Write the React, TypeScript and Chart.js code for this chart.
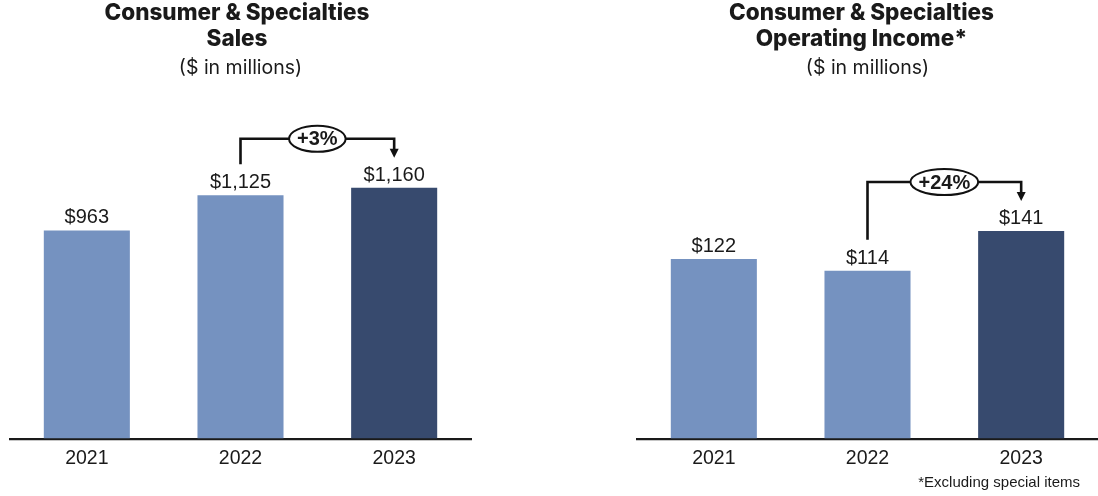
import React, { useEffect, useRef } from 'react';
import { Chart, registerables } from 'chart.js';

Chart.register(...registerables);

// ---- data ----
const years = ['2021', '2022', '2023'];
const salesValues = [963, 1125, 1160];
const incomeValues = [122, 114, 141];
const salesChange = '+3%';
const incomeChange = '+24%';
const salesTitle = ['Consumer & Specialties', 'Sales'];
const incomeTitle = ['Consumer & Specialties', 'Operating Income*'];
const unitLabel = '($ in millions)';
const footnoteText = '*Excluding special items';

const LIGHT = '#7592C0';
const DARK = '#374A6E';
const barColors = [LIGHT, LIGHT, DARK];
const TEXT = '#1a1a1a';
const SANS = '"Liberation Sans", Arial, sans-serif';
const TITLE_FONT = 'Inter, "Open Sans", sans-serif';

const valueLabelPlugin = {
  id: 'valueLabels',
  afterDatasetsDraw(chart: any) {
    const ctx = chart.ctx;
    const meta = chart.getDatasetMeta(0);
    const data = chart.data.datasets[0].data as number[];
    ctx.save();
    ctx.font = `20px ${SANS}`;
    ctx.fillStyle = TEXT;
    ctx.textAlign = 'center';
    ctx.textBaseline = 'alphabetic';
    meta.data.forEach((bar: any, i: number) => {
      ctx.fillText('$' + data[i].toLocaleString('en-US'), bar.x, bar.y - 7);
    });
    ctx.restore();
  },
};

const bracketPlugin = {
  id: 'bracket',
  afterDatasetsDraw(chart: any, _args: any, opts: any) {
    if (!opts || !opts.label) return;
    const ctx = chart.ctx;
    const meta = chart.getDatasetMeta(0);
    const a = meta.data[opts.from];
    const b = meta.data[opts.to];
    const topY = Math.min(a.y, b.y) - 49;
    const tip = b.y - 30;
    ctx.save();
    ctx.strokeStyle = '#111';
    ctx.fillStyle = '#111';
    ctx.lineWidth = 2.6;
    ctx.lineJoin = 'miter';
    ctx.beginPath();
    ctx.moveTo(a.x, a.y - 31);
    ctx.lineTo(a.x, topY);
    ctx.lineTo(b.x, topY);
    ctx.lineTo(b.x, tip - 8);
    ctx.stroke();
    ctx.beginPath();
    ctx.moveTo(b.x - 4.5, tip - 9);
    ctx.lineTo(b.x + 4.5, tip - 9);
    ctx.lineTo(b.x, tip);
    ctx.closePath();
    ctx.fill();
    // ellipse label
    ctx.font = `bold 20px ${SANS}`;
    const w = ctx.measureText(opts.label).width;
    const cx = (a.x + b.x) / 2;
    const rx = w / 2 + 8;
    const ry = 13;
    ctx.beginPath();
    ctx.ellipse(cx, topY, rx, ry, 0, 0, Math.PI * 2);
    ctx.fillStyle = '#ffffff';
    ctx.fill();
    ctx.lineWidth = 2;
    ctx.stroke();
    ctx.fillStyle = TEXT;
    ctx.textAlign = 'center';
    ctx.textBaseline = 'middle';
    ctx.fillText(opts.label, cx, topY + 1);
    ctx.restore();
  },
};

const footnotePlugin = {
  id: 'footnote',
  afterDraw(chart: any, _args: any, opts: any) {
    if (!opts || !opts.text) return;
    const ctx = chart.ctx;
    const area = chart.chartArea;
    ctx.save();
    ctx.font = `15px ${SANS}`;
    ctx.fillStyle = TEXT;
    ctx.textAlign = 'right';
    ctx.textBaseline = 'alphabetic';
    ctx.fillText(opts.text, area.right - 18, area.bottom + 48);
    ctx.restore();
  },
};

const titleShiftPlugin = {
  id: 'titleShift',
  afterLayout(chart: any, _args: any, opts: any) {
    const dx = (opts && opts.dx) || 0;
    [chart.titleBlock, chart.subtitleBlock].forEach((b: any) => {
      if (b) {
        b.left += dx;
        b.right += dx;
      }
    });
  },
};

function makeConfig(
  title: string[],
  values: number[],
  yMax: number,
  change: string,
  pad: { left: number; right: number },
  dx: number,
  footnote: string
): any {
  return {
    type: 'bar',
    data: {
      labels: years,
      datasets: [
        {
          data: values,
          backgroundColor: barColors,
          borderWidth: 0,
          categoryPercentage: 1,
          barPercentage: 0.56,
        },
      ],
    },
    options: {
      animation: false,
      responsive: true,
      maintainAspectRatio: false,
      layout: { padding: { left: pad.left, right: pad.right, top: 0, bottom: 18 } },
      scales: {
        x: {
          grid: { display: false, drawTicks: false },
          border: { display: true, color: '#1a1a1a', width: 2.2 },
          ticks: { color: TEXT, font: { family: SANS, size: 19.5 }, padding: 8 },
        },
        y: { display: false, min: 0, max: yMax },
      },
      plugins: {
        legend: { display: false },
        tooltip: { enabled: false },
        title: {
          display: true,
          text: title,
          color: TEXT,
          font: { family: TITLE_FONT, size: 22.5, weight: 800, lineHeight: '26px' },
          padding: { top: 0, bottom: 0 },
        },
        subtitle: {
          display: true,
          text: unitLabel,
          color: TEXT,
          font: { family: TITLE_FONT, size: 19.5, weight: 'normal', lineHeight: '22px' },
          padding: { top: 5, bottom: 21 },
        },
        bracket: { from: 1, to: 2, label: change },
        footnote: { text: footnote },
        titleShift: { dx },
      },
    },
    plugins: [valueLabelPlugin, bracketPlugin, footnotePlugin, titleShiftPlugin],
  };
}

function BarPanel(props: { config: any; style: React.CSSProperties }) {
  const ref = useRef<HTMLCanvasElement | null>(null);
  useEffect(() => {
    if (!ref.current) return;
    const chart = new Chart(ref.current, props.config);
    return () => chart.destroy();
  }, []);
  return (
    <div style={{ position: 'absolute', ...props.style }}>
      <canvas ref={ref} />
    </div>
  );
}

export default function App() {
  const left = makeConfig(salesTitle, salesValues, 1566, salesChange, { left: 10, right: 9 }, -3.5, '');
  const right = makeConfig(incomeTitle, incomeValues, 230, incomeChange, { left: 10, right: 0 }, -6, footnoteText);
  return (
    <div style={{ position: 'absolute', left: 0, top: 0, width: 1098, height: 496, background: '#fff' }}>
      <BarPanel config={left} style={{ left: 0, top: 0, width: 480, height: 496 }} />
      <BarPanel config={right} style={{ left: 627, top: 0, width: 471, height: 496 }} />
    </div>
  );
}
